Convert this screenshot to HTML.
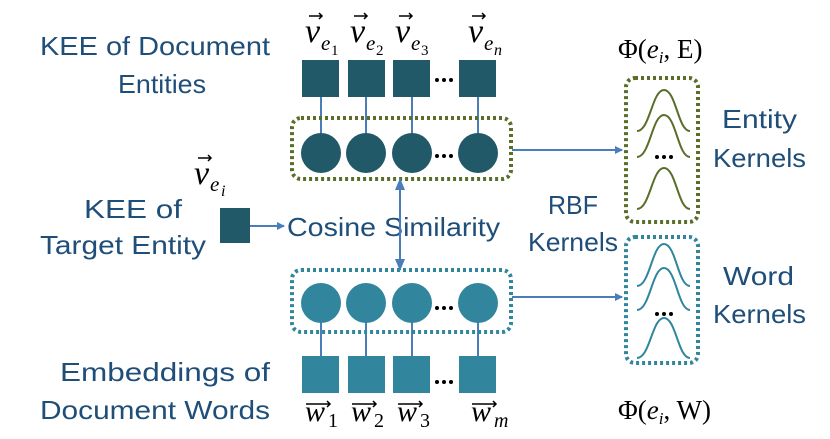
<!DOCTYPE html>
<html><head><meta charset="utf-8"><style>
body{margin:0;background:#fff}
.t text{font-family:"Liberation Sans",sans-serif;fill:#1f4e79;font-size:26px}
.m text{font-family:"Liberation Serif",serif;font-style:italic;fill:#000}
.n text{font-family:"Liberation Serif",serif;font-style:normal;fill:#000}
</style></head><body>
<svg width="830" height="434" viewBox="0 0 830 434" xmlns="http://www.w3.org/2000/svg">
<defs>
<marker id="a" markerWidth="8" markerHeight="8" refX="7" refY="4" orient="auto" markerUnits="userSpaceOnUse"><path d="M0,0 L8,4 L0,8z" fill="#4a7ebb"/></marker>
<marker id="b" markerWidth="12" markerHeight="10" refX="11" refY="5" orient="auto-start-reverse" markerUnits="userSpaceOnUse"><path d="M0,0 L12,5 L0,10z" fill="#4a7ebb"/></marker>
</defs>
<g class="t">
<text x="40" y="55" textLength="230" lengthAdjust="spacingAndGlyphs">KEE of Document</text>
<text x="118" y="93" textLength="88" lengthAdjust="spacingAndGlyphs">Entities</text>
<text x="84" y="218" textLength="98" lengthAdjust="spacingAndGlyphs">KEE of</text>
<text x="40" y="254" textLength="166" lengthAdjust="spacingAndGlyphs">Target Entity</text>
<text x="287" y="236" textLength="213" lengthAdjust="spacingAndGlyphs">Cosine Similarity</text>
<text x="548" y="214" textLength="50" lengthAdjust="spacingAndGlyphs">RBF</text>
<text x="528" y="251" textLength="90" lengthAdjust="spacingAndGlyphs">Kernels</text>
<text x="722" y="128" textLength="75" lengthAdjust="spacingAndGlyphs">Entity</text>
<text x="713" y="167" textLength="93" lengthAdjust="spacingAndGlyphs">Kernels</text>
<text x="723" y="285" textLength="71" lengthAdjust="spacingAndGlyphs">Word</text>
<text x="713" y="323" textLength="93" lengthAdjust="spacingAndGlyphs">Kernels</text>
<text x="60" y="381" textLength="210" lengthAdjust="spacingAndGlyphs">Embeddings of</text>
<text x="40" y="419" textLength="230" lengthAdjust="spacingAndGlyphs">Document Words</text>
</g>
<g stroke="#4a7ebb" stroke-width="2">
<line x1="321" y1="97" x2="321" y2="153"/><line x1="366" y1="97" x2="366" y2="153"/><line x1="412" y1="97" x2="412" y2="153"/><line x1="478" y1="97" x2="478" y2="153"/>
<line x1="321" y1="303" x2="321" y2="356"/><line x1="366" y1="303" x2="366" y2="356"/><line x1="412" y1="303" x2="412" y2="356"/><line x1="478" y1="303" x2="478" y2="356"/>
</g>
<g fill="#215968">
<rect x="302" y="60" width="37" height="37"/><rect x="348" y="60" width="37" height="37"/><rect x="393" y="60" width="37" height="37"/><rect x="459" y="60" width="37" height="37"/>
<circle cx="321" cy="153" r="20"/><circle cx="366" cy="153" r="20"/><circle cx="412" cy="153" r="20"/><circle cx="478" cy="153" r="20"/>
<rect x="220" y="208" width="30" height="35"/>
</g>
<g fill="#31859c">
<rect x="302" y="356" width="37" height="37"/><rect x="348" y="356" width="37" height="37"/><rect x="393" y="356" width="37" height="37"/><rect x="459" y="356" width="37" height="37"/>
<circle cx="321" cy="303" r="20"/><circle cx="366" cy="303" r="20"/><circle cx="412" cy="303" r="20"/><circle cx="478" cy="303" r="20"/>
</g>
<g fill="#000">
<circle cx="437" cy="80" r="2"/><circle cx="444" cy="80" r="2"/><circle cx="451" cy="80" r="2"/>
<circle cx="437" cy="156" r="2"/><circle cx="444" cy="156" r="2"/><circle cx="451" cy="156" r="2"/>
<circle cx="437" cy="308" r="2"/><circle cx="444" cy="308" r="2"/><circle cx="451" cy="308" r="2"/>
<circle cx="437" cy="382" r="2"/><circle cx="444" cy="382" r="2"/><circle cx="451" cy="382" r="2"/>
<circle cx="657" cy="157" r="2"/><circle cx="664" cy="157" r="2"/><circle cx="671" cy="157" r="2"/>
<circle cx="657" cy="314" r="2"/><circle cx="664" cy="314" r="2"/><circle cx="671" cy="314" r="2"/>
</g>
<rect x="292" y="118" width="219" height="61" rx="9" fill="none" stroke="#5a6e2a" stroke-width="4" stroke-dasharray="3,3"/>
<rect x="292" y="270" width="219" height="62" rx="9" fill="none" stroke="#31859c" stroke-width="4" stroke-dasharray="3,3"/>
<rect x="626" y="78" width="72" height="144" rx="9" fill="none" stroke="#5a6e2a" stroke-width="4" stroke-dasharray="3,3"/>
<rect x="626" y="237" width="72" height="126" rx="9" fill="none" stroke="#31859c" stroke-width="4" stroke-dasharray="3,3"/>
<g fill="none" stroke="#5a6e2a" stroke-width="2">
<path d="M637,131 C650,131 652,90 664,90 C676,90 678,131 690,131"/>
<path d="M637,157 C650,157 652,115 664,115 C676,115 678,157 690,157"/>
<path d="M637,209 C650,209 652,168 664,168 C676,168 678,209 690,209"/>
</g>
<g fill="none" stroke="#31859c" stroke-width="2">
<path d="M637,286 C650,286 652,244 664,244 C676,244 678,286 690,286"/>
<path d="M637,310 C650,310 652,268 664,268 C676,268 678,310 690,310"/>
<path d="M637,358 C650,358 652,318 664,318 C676,318 678,358 690,358"/>
</g>
<g stroke="#4a7ebb" stroke-width="2" fill="none">
<line x1="512" y1="150" x2="622" y2="150" marker-end="url(#a)"/>
<line x1="512" y1="297" x2="622" y2="297" marker-end="url(#a)"/>
<line x1="250" y1="226" x2="284" y2="226" marker-end="url(#a)"/>
<line x1="400" y1="179" x2="400" y2="270" marker-start="url(#b)" marker-end="url(#b)"/>
</g>
<g class="m" font-size="34">
<text x="305" y="42">v</text><text x="350" y="42">v</text><text x="395" y="42">v</text><text x="468" y="42">v</text><text x="194" y="184">v</text>
</g>
<g class="m" font-size="21"><text x="321" y="50">e</text><text x="366" y="50">e</text><text x="411" y="50">e</text><text x="484" y="50">e</text><text x="210" y="191">e</text></g>
<g class="n" font-size="15"><text x="331" y="55">1</text><text x="376" y="55">2</text><text x="421" y="55">3</text></g>
<g class="m" font-size="16"><text x="494" y="55">n</text><text x="221" y="196">i</text></g>
<g stroke="#000" stroke-width="1.5" fill="none">
<path d="M309,16 h13 m-3,-3 l3,3 l-3,3"/><path d="M354,16 h13 m-3,-3 l3,3 l-3,3"/><path d="M399,16 h13 m-3,-3 l3,3 l-3,3"/><path d="M472,16 h13 m-3,-3 l3,3 l-3,3"/><path d="M198,158 h13 m-3,-3 l3,3 l-3,3"/>
<path d="M306,404 h24 m-3,-3 l3,3 l-3,3"/><path d="M352,404 h24 m-3,-3 l3,3 l-3,3"/><path d="M398,404 h24 m-3,-3 l3,3 l-3,3"/><path d="M472,404 h24 m-3,-3 l3,3 l-3,3"/>
</g>
<g class="m" font-size="30"><text x="305" y="421">w</text><text x="351" y="421">w</text><text x="397" y="421">w</text><text x="471" y="421">w</text></g>
<g class="n" font-size="20"><text x="328" y="427">1</text><text x="374" y="427">2</text><text x="420" y="427">3</text></g>
<g class="m" font-size="20"><text x="494" y="427">m</text></g>
<g class="n" font-size="27">
<text x="618" y="58">Φ(<tspan font-style="italic">e</tspan><tspan font-style="italic" font-size="17" dy="5">i</tspan><tspan dy="-5">, E)</tspan></text>
<text x="618" y="419">Φ(<tspan font-style="italic">e</tspan><tspan font-style="italic" font-size="17" dy="5">i</tspan><tspan dy="-5">, W)</tspan></text>
</g>
</svg>
</body></html>
